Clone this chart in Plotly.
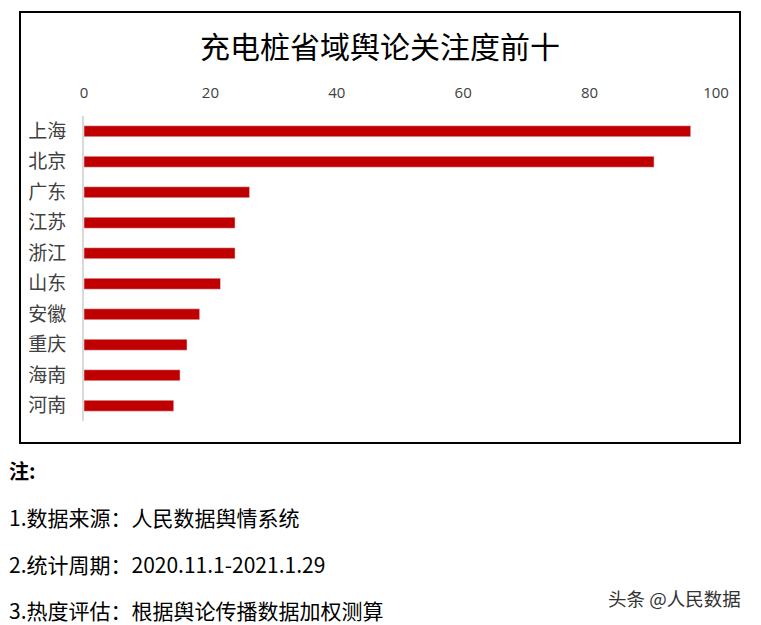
import plotly.graph_objects as go

# dados
provincias = ['上海', '北京', '广东', '江苏', '浙江', '山东', '安徽', '重庆', '海南', '河南']
relevancia = [96, 90.2, 26.2, 23.9, 23.9, 21.6, 18.3, 16.3, 15.2, 14.2]
ticks_x = [0, 20, 40, 60, 80, 100]
notas = ['1.数据来源：人民数据舆情系统',
         '2.统计周期：2020.11.1-2021.1.29',
         '3.热度评估：根据舆论传播数据加权测算']

# a pagina tem margem de 8px, entao a figura fica 8px menor
OFF = 8
W, H = 761 - OFF, 625 - OFF
ml = 84 - OFF
mt = 116 - OFF
mr = W - (716 - OFF)
mb = H - (421 - OFF)
pw, ph = W - ml - mr, H - mt - mb

def px_x(p):
    return (p - OFF - ml) / pw

def px_y(p):
    return (H - mb - (p - OFF)) / ph

fig = go.Figure()
fig.add_trace(go.Bar(
    x=relevancia, y=provincias, orientation='h',
    marker_color='#C00000', width=0.36,
    hovertemplate='%{y}: %{x}<extra></extra>'
))

fig.update_xaxes(range=[0, 100], side='top', tickvals=ticks_x,
                 showgrid=False, zeroline=False, showline=False,
                 ticklabelstandoff=14,
                 tickfont=dict(family='Open Sans', size=15, color='#404040'))
fig.update_yaxes(autorange='reversed', showgrid=False, zeroline=False,
                 showline=True, linecolor='#D9D9D9', linewidth=2,
                 ticklabelstandoff=12,
                 tickfont=dict(family='Noto Sans CJK SC', size=19, color='#404040'))

# moldura do grafico
fig.add_shape(type='rect', xref='paper', yref='paper',
              x0=px_x(20), x1=px_x(740), y0=px_y(443), y1=px_y(12),
              line=dict(color='black', width=2), fillcolor='rgba(0,0,0,0)')

fig.add_annotation(text='充电桩省域舆论关注度前十', xref='paper', yref='paper',
                   x=px_x(380), y=px_y(45), showarrow=False,
                   xanchor='center', yanchor='middle',
                   font=dict(family='Noto Sans CJK SC', size=30, color='black'))

fig.add_annotation(text='<b>注:</b>', xref='paper', yref='paper',
                   x=px_x(7), y=px_y(470), showarrow=False,
                   xanchor='left', yanchor='middle',
                   font=dict(family='Noto Sans CJK SC', size=20, color='black'))
for i, n in enumerate(notas):
    fig.add_annotation(text=n, xref='paper', yref='paper',
                       x=px_x(7), y=px_y(517 + i * 46.5), showarrow=False,
                       xanchor='left', yanchor='middle',
                       font=dict(family='Noto Sans CJK SC', size=21, color='black'))

fig.add_annotation(text='头条 @人民数据', xref='paper', yref='paper',
                   x=px_x(743), y=px_y(598), showarrow=False,
                   xanchor='right', yanchor='middle',
                   font=dict(family='Noto Sans CJK SC', size=18.5, color='#333333'))

fig.update_layout(
    width=W, height=H,
    margin=dict(l=ml, r=mr, t=mt, b=mb, pad=0),
    paper_bgcolor='white', plot_bgcolor='white',
    showlegend=False
)

fig.write_html('out.html')
